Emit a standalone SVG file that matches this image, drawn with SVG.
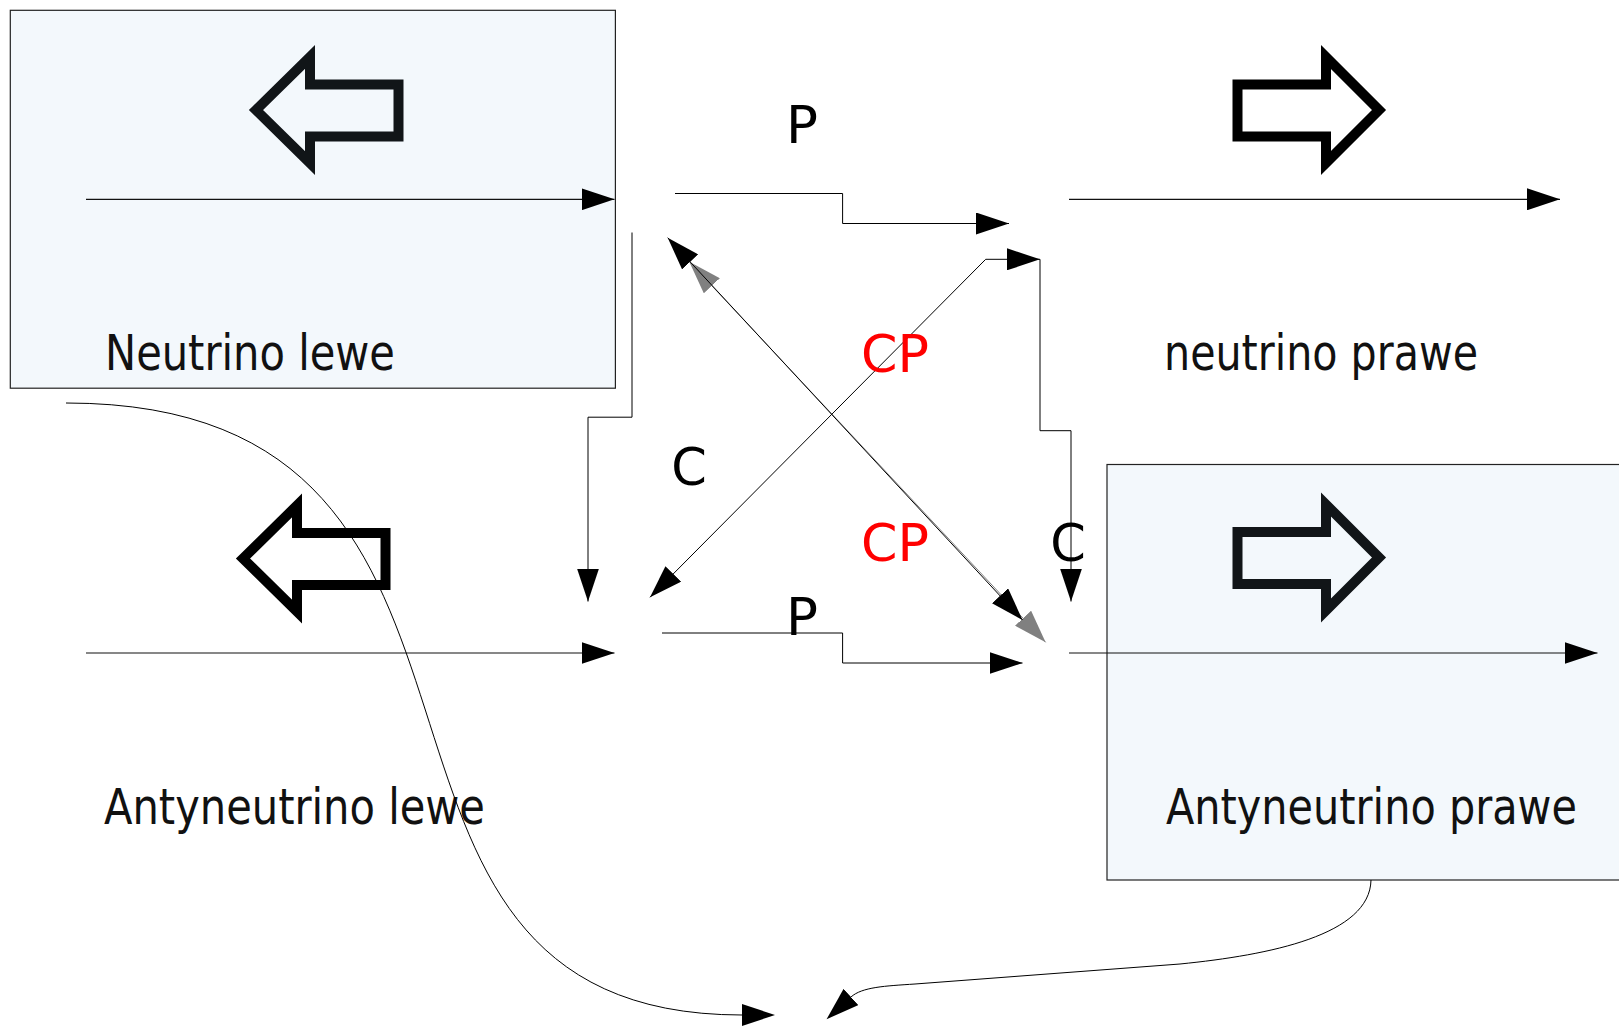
<svg xmlns="http://www.w3.org/2000/svg" width="1619" height="1026" viewBox="0 0 1619 1026">
  <style>
    .box { fill: #f3f8fc; stroke: #222; stroke-width: 1.2; }
    .spin { fill: none; stroke: #000; stroke-width: 10; stroke-linejoin: miter; stroke-miterlimit: 10; }
    .spin.dark { stroke: #111518; }
    .dir { fill: none; stroke: #111; stroke-width: 1.2; marker-end: url(#tip); }
    .name { font-family: "DejaVu Sans Condensed", "DejaVu Sans", sans-serif; font-size: 49px; fill: #111; }
    .op { font-family: "DejaVu Sans", sans-serif; font-size: 51px; fill: #000; text-anchor: middle; }
    .op.red { fill: #ff0000; }
    .conn { fill: none; stroke: #000; stroke-width: 1; }
  </style>
  <defs>
    <marker id="tip" markerUnits="userSpaceOnUse" markerWidth="34" markerHeight="22" refX="33" refY="11" orient="auto-start-reverse" viewBox="0 0 34 22">
      <path d="M0,0 L33,11 L0,22 z" fill="#000"/>
    </marker>
    <marker id="tipGray" markerUnits="userSpaceOnUse" markerWidth="34" markerHeight="22" refX="33" refY="11" orient="auto-start-reverse" viewBox="0 0 34 22">
      <path d="M0,0 L33,11 L0,22 z" fill="#808080"/>
    </marker>
    <marker id="tail" markerUnits="userSpaceOnUse" markerWidth="34" markerHeight="22" refX="0" refY="11" orient="auto" viewBox="0 0 34 22">
      <path d="M0,0 L33,11 L0,22 z" fill="#000"/>
    </marker>
    <polygon id="spinLeft" points="256,110 310,57 310,84.5 398.5,84.5 398.5,136.5 310,136.5 310,163"/>
    <polygon id="spinRight" points="1237.5,84.5 1326,84.5 1326,57 1379,110 1326,163 1326,136.5 1237.5,136.5"/>
  </defs>

  <!-- left-handed neutrino -->
  <g id="neutrino-lewe">
    <rect class="box" x="10.3" y="10.3" width="605.1" height="377.9"/>
    <use href="#spinLeft" class="spin dark"/>
    <line class="dir" x1="86" y1="199.3" x2="614.5" y2="199.3"/>
    <text class="name" x="105" y="369.5" textLength="290" lengthAdjust="spacingAndGlyphs">Neutrino lewe</text>
  </g>

  <!-- right-handed neutrino -->
  <g id="neutrino-prawe">
    <use href="#spinRight" class="spin"/>
    <line class="dir" x1="1069" y1="199.3" x2="1560" y2="199.3"/>
    <text class="name" x="1164" y="370" textLength="314" lengthAdjust="spacingAndGlyphs">neutrino prawe</text>
  </g>

  <!-- left-handed antineutrino -->
  <g id="antyneutrino-lewe">
    <use href="#spinLeft" class="spin" transform="translate(-13,448.5)"/>
    <line class="dir" x1="86" y1="653" x2="614.5" y2="653"/>
    <text class="name" x="104" y="824" textLength="381" lengthAdjust="spacingAndGlyphs">Antyneutrino lewe</text>
  </g>

  <!-- right-handed antineutrino -->
  <g id="antyneutrino-prawe">
    <rect class="box" x="1107" y="464.5" width="620" height="415.5"/>
    <use href="#spinRight" class="spin dark" transform="translate(0,447.5)"/>
    <line class="dir" x1="1069" y1="653" x2="1597.5" y2="653"/>
    <text class="name" x="1166" y="824" textLength="411" lengthAdjust="spacingAndGlyphs">Antyneutrino prawe</text>
  </g>

  <!-- symmetry transformations -->
  <g id="connectors">
    <path class="conn" d="M675,193.5 H842.6 V223.5 H1009" marker-end="url(#tip)"/>
    <path class="conn" d="M632,232.5 V417.2 H588 V601.5" marker-end="url(#tip)"/>
    <path class="conn" d="M1040,259.3 V430.7 H1071 V601.5" marker-end="url(#tip)"/>
    <path class="conn" d="M1040,259.3 H985.7 L650,597.3" marker-start="url(#tip)" marker-end="url(#tip)"/>
    <path class="conn" d="M689.3,261.7 L1045.6,642.3" style="stroke:#808080" marker-start="url(#tipGray)" marker-end="url(#tipGray)"/>
    <path class="conn" d="M667.7,237.7 L1022.5,620" marker-start="url(#tip)" marker-end="url(#tip)"/>
    <path class="conn" d="M662,633 H842.6 V663 H1022.5" marker-end="url(#tip)"/>
    <path class="conn" d="M66,403 C573,403 291,1015 742,1015" marker-end="url(#tail)"/>
    <path class="conn" d="M1371,880 C1370,935 1270,955 1180,964 L915,984 C885,986 862,987 851,997" marker-end="url(#tail)"/>
  </g>

  <!-- operation labels -->
  <g id="labels">
    <text class="op" x="802" y="142.5" textLength="32" lengthAdjust="spacingAndGlyphs">P</text>
    <text class="op" x="689" y="484.5">C</text>
    <text class="op red" x="895" y="371.5" textLength="68" lengthAdjust="spacingAndGlyphs">CP</text>
    <text class="op red" x="895" y="560.5" textLength="68" lengthAdjust="spacingAndGlyphs">CP</text>
    <text class="op" x="802" y="634.5" textLength="32" lengthAdjust="spacingAndGlyphs">P</text>
    <text class="op" x="1068" y="560.5">C</text>
  </g>
</svg>
